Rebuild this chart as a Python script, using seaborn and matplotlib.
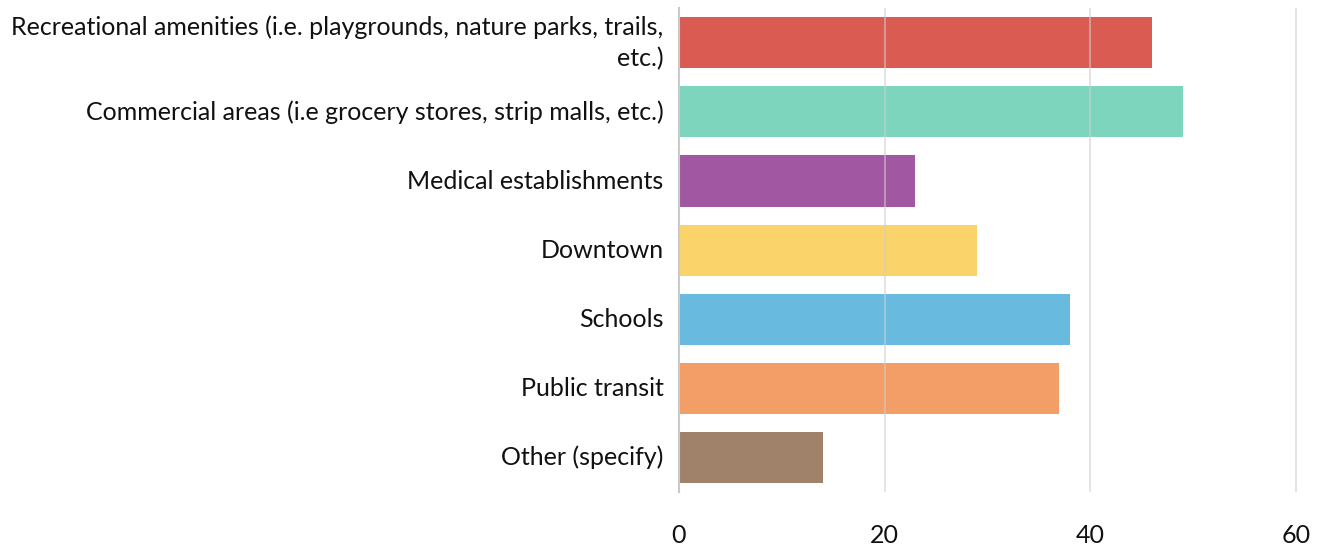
import matplotlib
matplotlib.use("Agg")
import matplotlib.pyplot as plt
import seaborn as sns
import pandas as pd

categories = [
    "Recreational amenities (i.e. playgrounds, nature parks, trails,\netc.)",
    "Commercial areas (i.e grocery stores, strip malls, etc.)",
    "Medical establishments",
    "Downtown",
    "Schools",
    "Public transit",
    "Other (specify)",
]
values = [46, 49, 23, 29, 38, 37, 14]
colors = ["#D95B52", "#7DD5BD", "#A257A3", "#FAD46A", "#69BADF", "#F29E66", "#A0826A"]
x_ticks = [0, 20, 40, 60]

df = pd.DataFrame({"category": categories, "value": values})

sns.set_theme(style="white")
plt.rcParams["font.family"] = ["Lato", "DejaVu Sans"]

fig = plt.figure(figsize=(13.24, 5.48), dpi=100)
ax = fig.add_axes([0.5128, 0.102, 0.4683, 0.883])

sns.barplot(data=df, y="category", x="value", hue="category",
            palette=colors, order=categories, hue_order=categories,
            orient="h", width=0.74, legend=False, ax=ax, saturation=1)

for bar in ax.patches:
    bar.set_linewidth(0)

ax.set_xlim(0, 60.3)
ax.set_ylim(6.5, -0.5)
ax.set_xticks(x_ticks)
ax.set_xticklabels([str(t) for t in x_ticks])
ax.grid(axis="x", color="#cfcfcf", linewidth=1.3, alpha=0.6)
ax.set_axisbelow(False)
ax.grid(axis="y", visible=False)

for s in ["top", "right", "bottom"]:
    ax.spines[s].set_visible(False)
ax.spines["left"].set_color("#c8c8c8")
ax.spines["left"].set_linewidth(1.5)

ax.tick_params(axis="x", length=0, pad=23, labelsize=18, labelcolor="#111111")
ax.tick_params(axis="y", length=0, pad=11, labelsize=18, labelcolor="#111111")
for lbl in ax.get_yticklabels():
    lbl.set_multialignment("right")
    lbl.set_linespacing(1.45)
    lbl.set_verticalalignment("center")
ax.set_xlabel("")
ax.set_ylabel("")

fig.savefig("out.png", dpi=100)
